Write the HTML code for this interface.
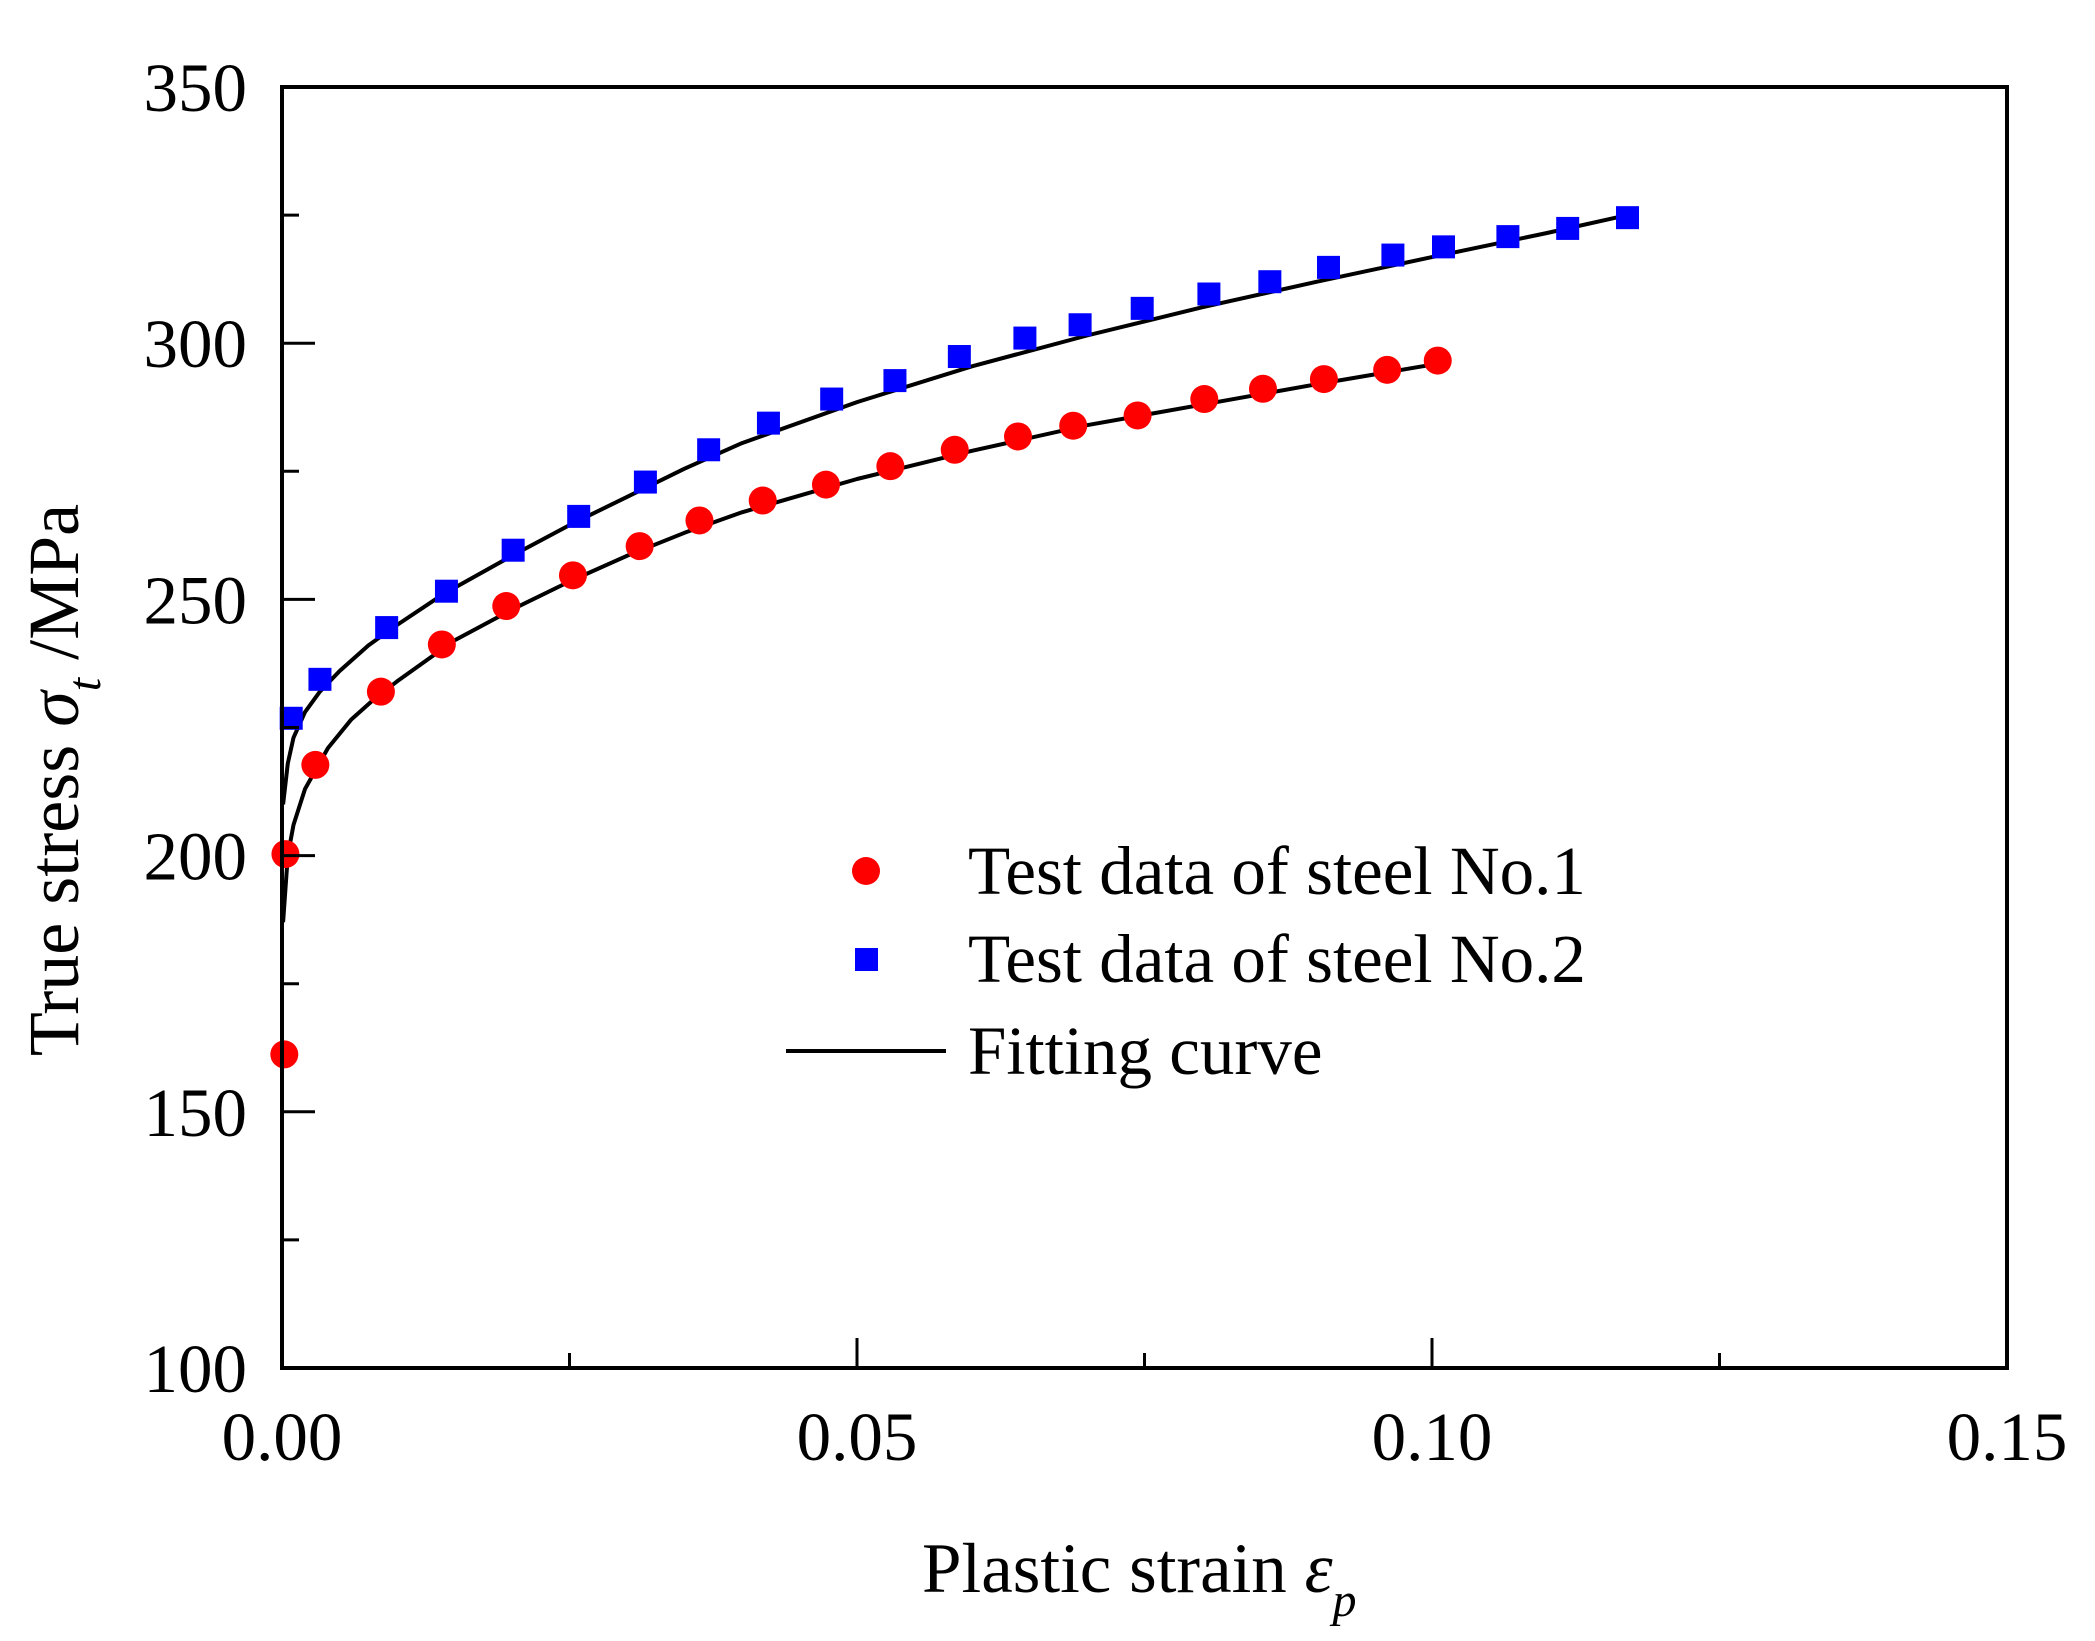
<!DOCTYPE html>
<html><head><meta charset="utf-8"><style>
html,body{margin:0;padding:0;background:#fff;}
svg{display:block;font-family:"Liberation Serif",serif;}
</style></head><body>
<svg id="chart" width="2095" height="1641" viewBox="0 0 2095 1641" xmlns="http://www.w3.org/2000/svg">
<rect width="2095" height="1641" fill="#fff"/>
<g id="plot"></g>
<g id="axes"></g>
<text x="922" y="1592" font-size="71">Plastic strain <tspan font-style="italic">ε</tspan><tspan font-style="italic" font-size="48" dy="24">p</tspan></text>
<text transform="translate(78,780) rotate(-90)" text-anchor="middle" font-size="72">True stress <tspan font-style="italic">σ</tspan><tspan font-style="italic" font-size="48" dy="22">t</tspan><tspan dy="-22"> /MPa</tspan></text>
<g>
<circle cx="866" cy="871" r="14" fill="#f00"/>
<text x="968" y="894" font-size="69">Test data of steel No.1</text>
<rect x="855" y="948" width="23" height="23" fill="#0000ff"/>
<text x="968" y="982" font-size="69">Test data of steel No.2</text>
<line x1="786" y1="1051" x2="946" y2="1051" stroke="#000" stroke-width="4"/>
<text x="968" y="1074" font-size="69">Fitting curve</text>
</g>
</svg>
<script>
const xTicks = [0, 0.05, 0.10, 0.15];
const xTickLabels = ["0.00", "0.05", "0.10", "0.15"];
const yTicks = [100, 150, 200, 250, 300, 350];
const yTickLabels = ["100", "150", "200", "250", "300", "350"];
const steel1X = [0.0002,0.0003,0.0029,0.0086,0.0139,0.0195,0.0253,0.0311,0.0363,0.0418,0.0473,0.0529,0.0585,0.0640,0.0688,0.0744,0.0802,0.0853,0.0906,0.0961,0.1005];
const steel1Y = [161.2,200.3,217.7,232.0,241.2,248.7,254.7,260.4,265.4,269.3,272.4,276.0,279.2,281.8,283.9,285.9,289.1,291.1,293.0,294.8,296.6];
const steel2X = [0.0008,0.0033,0.0091,0.0143,0.0201,0.0258,0.0316,0.0371,0.0423,0.0478,0.0533,0.0589,0.0646,0.0694,0.0748,0.0806,0.0859,0.0910,0.0966,0.1010,0.1066,0.1118,0.1170];
const steel2Y = [226.8,234.4,244.5,251.6,259.6,266.2,272.9,279.2,284.4,289.1,292.7,297.4,301.0,303.6,306.8,309.6,312.0,314.8,317.2,318.8,320.8,322.4,324.5];
const fit1X = [0.0001,0.0005,0.001,0.002,0.003,0.004,0.006,0.008,0.01,0.015,0.02,0.025,0.03,0.035,0.04,0.05,0.06,0.07,0.08,0.09,0.1];
const fit1Y = [187,200,206,213,217,221,226.5,230.5,234,242,248,253.5,258.5,263,267,273.5,279,284,288,292,295.8];
const fit2X = [0.0001,0.0005,0.001,0.002,0.0033,0.005,0.0075,0.01,0.014,0.02,0.025,0.03,0.035,0.04,0.05,0.06,0.07,0.08,0.09,0.1,0.11,0.117];
const fit2Y = [210,218,223,228,232,236,241,245,251,258.5,264.5,270,275.5,280.5,288.5,295.5,301.5,307,312,316.8,321.5,325];

const X0=282, X1=2007, Y0=1368, Y1=87;
const xs = v => X0 + (v-0)/(0.15-0)*(X1-X0);
const ys = v => Y0 - (v-100)/(350-100)*(Y0-Y1);
const NS="http://www.w3.org/2000/svg";
const plot=document.getElementById('plot'), axes=document.getElementById('axes');
function mk(tag, attrs, parent){const e=document.createElementNS(NS,tag);for(const k in attrs)e.setAttribute(k,attrs[k]);parent.appendChild(e);return e;}

function curve(X,Y,name){
  const p=mk('path',{d:X.map((x,i)=>(i?'L':'M')+xs(x).toFixed(1)+' '+ys(Y[i]).toFixed(1)).join(' '),fill:'none',stroke:'#000','stroke-width':4,'stroke-linejoin':'round'},plot);
  
  
}
curve(fit1X,fit1Y,'fitting-curve-steel-1');
curve(fit2X,fit2Y,'fitting-curve-steel-2');
steel1X.forEach((x,i)=>{
  const c=mk('circle',{cx:xs(x),cy:ys(steel1Y[i]),r:14,fill:'#f00'},plot);
  
  
});
steel2X.forEach((x,i)=>{
  const r=mk('rect',{x:xs(x)-11.5,y:ys(steel2Y[i])-11.5,width:23,height:23,fill:'#0000ff'},plot);
  
  
});

const frame=mk('rect',{x:X0,y:Y1,width:X1-X0,height:Y0-Y1,fill:'none',stroke:'#000','stroke-width':4},axes);



xTicks.forEach((t,i)=>{
  const tk=mk('line',{x1:xs(t),y1:Y0,x2:xs(t),y2:Y0-30,stroke:'#000','stroke-width':3},axes);
  
  
  const lb=mk('text',{x:xs(t),y:1460,'text-anchor':'middle','font-size':69},axes);
  lb.textContent=xTickLabels[i];
  
  
  if(i<xTicks.length-1){
    const m=(t+xTicks[i+1])/2;
    const mt=mk('line',{x1:xs(m),y1:Y0,x2:xs(m),y2:Y0-15,stroke:'#000','stroke-width':3},axes);
    
    
  }
});
yTicks.forEach((t,i)=>{
  const tk=mk('line',{x1:X0,y1:ys(t),x2:X0+33,y2:ys(t),stroke:'#000','stroke-width':3},axes);
  
  
  const lb=mk('text',{x:247,y:ys(t)+24,'text-anchor':'end','font-size':69},axes);
  lb.textContent=yTickLabels[i];
  
  
  if(i<yTicks.length-1){
    const m=(t+yTicks[i+1])/2;
    const mt=mk('line',{x1:X0,y1:ys(m),x2:X0+17,y2:ys(m),stroke:'#000','stroke-width':3},axes);
    
    
  }
});
</script>
</body></html>
